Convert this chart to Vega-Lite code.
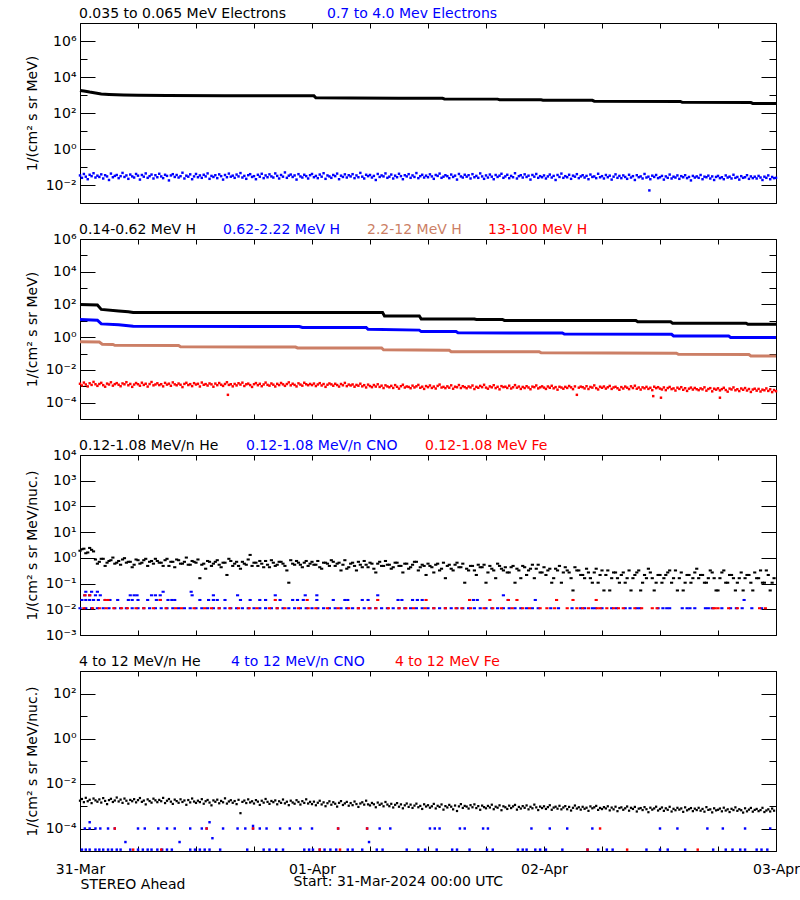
{
"$schema": "https://vega.github.io/schema/vega-lite/v6.json",
"background": "white",
"padding": {"left": 24, "top": 6, "right": 0, "bottom": 0},
"spacing": 11,
"title": {"text": "Start: 31-Mar-2024 00:00 UTC", "orient": "bottom", "anchor": "middle", "offset": -17, "dx": -14, "fontSize": 14, "fontWeight": "normal", "font": "DejaVu Sans", "color": "black"},
"resolve": {"scale": {"x": "independent", "y": "independent", "color": "independent"}},
"config": {
  "font": "DejaVu Sans",
  "view": {"stroke": "black", "strokeWidth": 1},
  "axis": {"domain": false, "grid": false, "tickColor": "black", "tickWidth": 1, "labelFont": "DejaVu Sans", "labelFontSize": 14, "labelColor": "black", "titleFont": "DejaVu Sans", "titleFontSize": 14, "titleFontWeight": "normal", "titleColor": "black", "labelFlush": false, "labelOverlap": false, "labelBound": false},
  "legend": {"orient": "top", "direction": "horizontal", "symbolSize": 0, "symbolOpacity": 0, "symbolStrokeWidth": 0, "labelOffset": -15, "labelFont": "DejaVu Sans", "labelFontSize": 14, "labelLimit": 600, "offset": 1, "padding": 0}
},
"datasets": {
"p1k": [{"t":0,"v":1800},{"t":0.4,"v":1650},{"t":1,"v":1450},{"t":1.6,"v":1300},{"t":2.2,"v":1150},{"t":3,"v":1080},{"t":4.5,"v":1000},{"t":6,"v":960},{"t":9,"v":940},{"t":15,"v":920},{"t":20,"v":910},{"t":24.2,"v":900},{"t":24.4,"v":700},{"t":28,"v":690},{"t":33,"v":660},{"t":37.5,"v":650},{"t":37.7,"v":600},{"t":43.2,"v":590},{"t":43.4,"v":550},{"t":47.7,"v":540},{"t":47.9,"v":515},{"t":53,"v":505},{"t":53.2,"v":455},{"t":62.1,"v":440},{"t":62.3,"v":390},{"t":69.4,"v":380},{"t":69.6,"v":340},{"t":72,"v":335}],
"p1b": [
{"t":0,"v":0.034},{"t":0.2,"v":0.025},{"t":0.4,"v":0.041},{"t":0.6,"v":0.029},{"t":0.8,"v":0.021},{"t":1,"v":0.037},{"t":1.2,"v":0.031},{"t":1.4,"v":0.045},{"t":1.6,"v":0.026},{"t":1.8,"v":0.033},
{"t":2,"v":0.028},{"t":2.2,"v":0.039},{"t":2.4,"v":0.023},{"t":2.6,"v":0.035},{"t":2.8,"v":0.030},{"t":3,"v":0.019},{"t":3.2,"v":0.043},{"t":3.4,"v":0.027},{"t":3.6,"v":0.032},{"t":3.8,"v":0.036},
{"t":4,"v":0.024},{"t":4.2,"v":0.031},{"t":4.4,"v":0.047},{"t":4.6,"v":0.028},{"t":4.8,"v":0.034},{"t":5,"v":0.022},{"t":5.2,"v":0.038},{"t":5.4,"v":0.030},{"t":5.6,"v":0.026},{"t":5.8,"v":0.041},
{"t":6,"v":0.033},{"t":6.2,"v":0.020},{"t":6.4,"v":0.036},{"t":6.6,"v":0.029},{"t":6.8,"v":0.044},{"t":7,"v":0.025},{"t":7.2,"v":0.031},{"t":7.4,"v":0.038},{"t":7.6,"v":0.023},{"t":7.8,"v":0.035},
{"t":8,"v":0.027},{"t":8.2,"v":0.042},{"t":8.4,"v":0.030},{"t":8.6,"v":0.024},{"t":8.8,"v":0.037},{"t":9,"v":0.032},{"t":9.2,"v":0.018},{"t":9.4,"v":0.034},{"t":9.6,"v":0.040},{"t":9.8,"v":0.028},
{"t":10,"v":0.036},{"t":10.2,"v":0.026},{"t":10.4,"v":0.031},{"t":10.6,"v":0.048},{"t":10.8,"v":0.023},{"t":11,"v":0.033},{"t":11.2,"v":0.029},{"t":11.4,"v":0.039},{"t":11.6,"v":0.021},{"t":11.8,"v":0.030},
{"t":12,"v":0.041},{"t":12.2,"v":0.027},{"t":12.4,"v":0.034},{"t":12.6,"v":0.025},{"t":12.8,"v":0.037},{"t":13,"v":0.030},{"t":13.2,"v":0.044},{"t":13.4,"v":0.022},{"t":13.6,"v":0.032},{"t":13.8,"v":0.028},
{"t":14,"v":0.035},{"t":14.2,"v":0.024},{"t":14.4,"v":0.039},{"t":14.6,"v":0.031},{"t":14.8,"v":0.020},{"t":15,"v":0.036},{"t":15.2,"v":0.027},{"t":15.4,"v":0.043},{"t":15.6,"v":0.029},{"t":15.8,"v":0.033},
{"t":16,"v":0.025},{"t":16.2,"v":0.038},{"t":16.4,"v":0.030},{"t":16.6,"v":0.046},{"t":16.8,"v":0.026},{"t":17,"v":0.032},{"t":17.2,"v":0.022},{"t":17.4,"v":0.035},{"t":17.6,"v":0.040},{"t":17.8,"v":0.028},
{"t":18,"v":0.031},{"t":18.2,"v":0.021},{"t":18.4,"v":0.037},{"t":18.6,"v":0.029},{"t":18.8,"v":0.042},{"t":19,"v":0.024},{"t":19.2,"v":0.034},{"t":19.4,"v":0.027},{"t":19.6,"v":0.039},{"t":19.8,"v":0.030},
{"t":20,"v":0.026},{"t":20.2,"v":0.044},{"t":20.4,"v":0.032},{"t":20.6,"v":0.023},{"t":20.8,"v":0.036},{"t":21,"v":0.029},{"t":21.2,"v":0.050},{"t":21.4,"v":0.025},{"t":21.6,"v":0.033},{"t":21.8,"v":0.038},
{"t":22,"v":0.028},{"t":22.2,"v":0.034},{"t":22.4,"v":0.020},{"t":22.6,"v":0.040},{"t":22.8,"v":0.030},{"t":23,"v":0.026},{"t":23.2,"v":0.037},{"t":23.4,"v":0.031},{"t":23.6,"v":0.023},{"t":23.8,"v":0.035},
{"t":24,"v":0.041},{"t":24.2,"v":0.027},{"t":24.4,"v":0.032},{"t":24.6,"v":0.024},{"t":24.8,"v":0.038},{"t":25,"v":0.029},{"t":25.2,"v":0.045},{"t":25.4,"v":0.022},{"t":25.6,"v":0.034},{"t":25.8,"v":0.030},
{"t":26,"v":0.025},{"t":26.2,"v":0.036},{"t":26.4,"v":0.031},{"t":26.6,"v":0.043},{"t":26.8,"v":0.021},{"t":27,"v":0.033},{"t":27.2,"v":0.028},{"t":27.4,"v":0.039},{"t":27.6,"v":0.026},{"t":27.8,"v":0.035},
{"t":28,"v":0.030},{"t":28.2,"v":0.040},{"t":28.4,"v":0.024},{"t":28.6,"v":0.034},{"t":28.8,"v":0.027},{"t":29,"v":0.047},{"t":29.2,"v":0.029},{"t":29.4,"v":0.023},{"t":29.6,"v":0.037},{"t":29.8,"v":0.031},
{"t":30,"v":0.036},{"t":30.2,"v":0.026},{"t":30.4,"v":0.032},{"t":30.6,"v":0.019},{"t":30.8,"v":0.041},{"t":31,"v":0.028},{"t":31.2,"v":0.034},{"t":31.4,"v":0.030},{"t":31.6,"v":0.044},{"t":31.8,"v":0.025},
{"t":32,"v":0.029},{"t":32.2,"v":0.038},{"t":32.4,"v":0.023},{"t":32.6,"v":0.033},{"t":32.8,"v":0.027},{"t":33,"v":0.042},{"t":33.2,"v":0.031},{"t":33.4,"v":0.021},{"t":33.6,"v":0.035},{"t":33.8,"v":0.030},
{"t":34,"v":0.040},{"t":34.2,"v":0.025},{"t":34.4,"v":0.034},{"t":34.6,"v":0.028},{"t":34.8,"v":0.046},{"t":35,"v":0.024},{"t":35.2,"v":0.031},{"t":35.4,"v":0.037},{"t":35.6,"v":0.026},{"t":35.8,"v":0.033},
{"t":36,"v":0.027},{"t":36.2,"v":0.039},{"t":36.4,"v":0.030},{"t":36.6,"v":0.022},{"t":36.8,"v":0.036},{"t":37,"v":0.032},{"t":37.2,"v":0.043},{"t":37.4,"v":0.025},{"t":37.6,"v":0.029},{"t":37.8,"v":0.035},
{"t":38,"v":0.031},{"t":38.2,"v":0.024},{"t":38.4,"v":0.038},{"t":38.6,"v":0.028},{"t":38.8,"v":0.033},{"t":39,"v":0.020},{"t":39.2,"v":0.041},{"t":39.4,"v":0.030},{"t":39.6,"v":0.026},{"t":39.8,"v":0.037},
{"t":40,"v":0.029},{"t":40.2,"v":0.035},{"t":40.4,"v":0.023},{"t":40.6,"v":0.040},{"t":40.8,"v":0.027},{"t":41,"v":0.032},{"t":41.2,"v":0.025},{"t":41.4,"v":0.044},{"t":41.6,"v":0.030},{"t":41.8,"v":0.022},
{"t":42,"v":0.034},{"t":42.2,"v":0.026},{"t":42.4,"v":0.038},{"t":42.6,"v":0.029},{"t":42.8,"v":0.021},{"t":43,"v":0.036},{"t":43.2,"v":0.028},{"t":43.4,"v":0.033},{"t":43.6,"v":0.042},{"t":43.8,"v":0.025},
{"t":44,"v":0.030},{"t":44.2,"v":0.037},{"t":44.4,"v":0.024},{"t":44.6,"v":0.032},{"t":44.8,"v":0.027},{"t":45,"v":0.045},{"t":45.2,"v":0.023},{"t":45.4,"v":0.031},{"t":45.6,"v":0.035},{"t":45.8,"v":0.026},
{"t":46,"v":0.039},{"t":46.2,"v":0.028},{"t":46.4,"v":0.033},{"t":46.6,"v":0.020},{"t":46.8,"v":0.036},{"t":47,"v":0.029},{"t":47.2,"v":0.041},{"t":47.4,"v":0.025},{"t":47.6,"v":0.031},{"t":47.8,"v":0.027},
{"t":48,"v":0.034},{"t":48.2,"v":0.023},{"t":48.4,"v":0.030},{"t":48.6,"v":0.038},{"t":48.8,"v":0.026},{"t":49,"v":0.032},{"t":49.2,"v":0.019},{"t":49.4,"v":0.036},{"t":49.6,"v":0.028},{"t":49.8,"v":0.043},
{"t":50,"v":0.025},{"t":50.2,"v":0.031},{"t":50.4,"v":0.027},{"t":50.6,"v":0.037},{"t":50.8,"v":0.022},{"t":51,"v":0.033},{"t":51.2,"v":0.029},{"t":51.4,"v":0.040},{"t":51.6,"v":0.024},{"t":51.8,"v":0.030},
{"t":52,"v":0.035},{"t":52.2,"v":0.026},{"t":52.4,"v":0.032},{"t":52.6,"v":0.021},{"t":52.8,"v":0.038},{"t":53,"v":0.028},{"t":53.2,"v":0.030},{"t":53.4,"v":0.024},{"t":53.6,"v":0.042},{"t":53.8,"v":0.027},
{"t":54,"v":0.031},{"t":54.2,"v":0.023},{"t":54.4,"v":0.036},{"t":54.6,"v":0.027},{"t":54.8,"v":0.033},{"t":55,"v":0.020},{"t":55.2,"v":0.029},{"t":55.4,"v":0.039},{"t":55.6,"v":0.025},{"t":55.8,"v":0.032},
{"t":56,"v":0.024},{"t":56.2,"v":0.034},{"t":56.4,"v":0.028},{"t":56.6,"v":0.022},{"t":56.8,"v":0.037},{"t":57,"v":0.026},{"t":57.2,"v":0.031},{"t":57.4,"v":0.019},{"t":57.6,"v":0.035},{"t":57.8,"v":0.027},
{"t":58,"v":0.030},{"t":58.2,"v":0.023},{"t":58.4,"v":0.041},{"t":58.6,"v":0.026},{"t":58.8,"v":0.029},{"t":59,"v":0.021},{"t":59.2,"v":0.033},{"t":59.4,"v":0.028},{"t":59.6,"v":0.036},{"t":59.8,"v":0.024},
{"t":60,"v":0.027},{"t":60.2,"v":0.032},{"t":60.4,"v":0.020},{"t":60.6,"v":0.030},{"t":60.8,"v":0.025},{"t":61,"v":0.038},{"t":61.2,"v":0.023},{"t":61.4,"v":0.029},{"t":61.6,"v":0.026},{"t":61.8,"v":0.034},
{"t":62,"v":0.022},{"t":62.2,"v":0.031},{"t":62.4,"v":0.027},{"t":62.6,"v":0.035},{"t":62.8,"v":0.024},{"t":63,"v":0.028},{"t":63.2,"v":0.018},{"t":63.4,"v":0.032},{"t":63.6,"v":0.026},{"t":63.8,"v":0.030},
{"t":64,"v":0.025},{"t":64.2,"v":0.036},{"t":64.4,"v":0.021},{"t":64.6,"v":0.029},{"t":64.8,"v":0.027},{"t":65,"v":0.033},{"t":65.2,"v":0.023},{"t":65.4,"v":0.030},{"t":65.6,"v":0.019},{"t":65.8,"v":0.028},
{"t":66,"v":0.032},{"t":66.2,"v":0.024},{"t":66.4,"v":0.027},{"t":66.6,"v":0.021},{"t":66.8,"v":0.034},{"t":67,"v":0.026},{"t":67.2,"v":0.029},{"t":67.4,"v":0.023},{"t":67.6,"v":0.037},{"t":67.8,"v":0.025},
{"t":68,"v":0.028},{"t":68.2,"v":0.020},{"t":68.4,"v":0.031},{"t":68.6,"v":0.025},{"t":68.8,"v":0.027},{"t":69,"v":0.035},{"t":69.2,"v":0.022},{"t":69.4,"v":0.030},{"t":69.6,"v":0.024},{"t":69.8,"v":0.029},
{"t":70,"v":0.023},{"t":70.2,"v":0.032},{"t":70.4,"v":0.026},{"t":70.6,"v":0.019},{"t":70.8,"v":0.029},{"t":71,"v":0.025},{"t":71.2,"v":0.034},{"t":71.4,"v":0.021},{"t":71.6,"v":0.028},{"t":71.8,"v":0.024},
{"t":58.9,"v":0.005},{"t":72,"v":0.025}],
"p2k": [{"t":0,"v":100},{"t":1.8,"v":92},{"t":2.2,"v":50},{"t":4,"v":40},{"t":5,"v":36},{"t":5.5,"v":32},{"t":31.3,"v":32},{"t":31.5,"v":20},{"t":35.1,"v":20},{"t":35.3,"v":13},{"t":40.8,"v":13},{"t":41,"v":12},{"t":43.7,"v":12},{"t":43.9,"v":10.5},{"t":57.5,"v":10.5},{"t":57.7,"v":8.7},{"t":61.1,"v":8.7},{"t":61.3,"v":7.2},{"t":68.9,"v":7.2},{"t":69.1,"v":6.1},{"t":72,"v":6.1}],
"p2b": [{"t":0,"v":12},{"t":1.8,"v":11},{"t":2.2,"v":6.5},{"t":4,"v":5.8},{"t":5.5,"v":4.6},{"t":22.7,"v":4.5},{"t":23,"v":3.9},{"t":29.6,"v":3.9},{"t":29.8,"v":3.0},{"t":35.1,"v":2.7},{"t":35.3,"v":2.2},{"t":38.9,"v":2.2},{"t":39.1,"v":1.85},{"t":49.9,"v":1.8},{"t":50.1,"v":1.55},{"t":61.2,"v":1.5},{"t":61.4,"v":1.2},{"t":67.1,"v":1.2},{"t":67.3,"v":0.96},{"t":72,"v":0.95}],
"p2o": [{"t":0,"v":0.52},{"t":2,"v":0.5},{"t":2.3,"v":0.37},{"t":3.4,"v":0.36},{"t":3.6,"v":0.32},{"t":10.2,"v":0.31},{"t":10.4,"v":0.26},{"t":22.3,"v":0.25},{"t":22.5,"v":0.22},{"t":31.2,"v":0.22},{"t":31.4,"v":0.17},{"t":38.2,"v":0.16},{"t":38.4,"v":0.13},{"t":47.5,"v":0.13},{"t":47.7,"v":0.11},{"t":61.7,"v":0.105},{"t":61.9,"v":0.091},{"t":69.2,"v":0.088},{"t":69.4,"v":0.072},{"t":72,"v":0.072}],
"p2r": [
{"t":0,"v":0.00142},{"t":0.2,"v":0.00112},{"t":0.4,"v":0.00168},{"t":0.6,"v":0.00128},{"t":0.8,"v":0.00098},{"t":1,"v":0.00152},{"t":1.2,"v":0.00121},{"t":1.4,"v":0.00185},{"t":1.6,"v":0.00133},{"t":1.8,"v":0.00106},
{"t":2,"v":0.00138},{"t":2.2,"v":0.00162},{"t":2.4,"v":0.00117},{"t":2.6,"v":0.00094},{"t":2.8,"v":0.00146},{"t":3,"v":0.00128},{"t":3.2,"v":0.00175},{"t":3.4,"v":0.00109},{"t":3.6,"v":0.00135},{"t":3.8,"v":0.00156},
{"t":4,"v":0.00124},{"t":4.2,"v":0.00101},{"t":4.4,"v":0.00149},{"t":4.6,"v":0.00132},{"t":4.8,"v":0.00178},{"t":5,"v":0.00115},{"t":5.2,"v":0.00139},{"t":5.4,"v":0.00092},{"t":5.6,"v":0.00127},{"t":5.8,"v":0.00158},
{"t":6,"v":0.00133},{"t":6.2,"v":0.00108},{"t":6.4,"v":0.00165},{"t":6.6,"v":0.00121},{"t":6.8,"v":0.00143},{"t":7,"v":0.00096},{"t":7.2,"v":0.00137},{"t":7.4,"v":0.00182},{"t":7.6,"v":0.00114},{"t":7.8,"v":0.00129},
{"t":8,"v":0.00152},{"t":8.2,"v":0.00118},{"t":8.4,"v":0.00134},{"t":8.6,"v":0.00099},{"t":8.8,"v":0.00161},{"t":9,"v":0.00126},{"t":9.2,"v":0.00144},{"t":9.4,"v":0.00107},{"t":9.6,"v":0.00172},{"t":9.8,"v":0.00131},
{"t":10,"v":0.00115},{"t":10.2,"v":0.00147},{"t":10.4,"v":0.00124},{"t":10.6,"v":0.00089},{"t":10.8,"v":0.00139},{"t":11,"v":0.00163},{"t":11.2,"v":0.00119},{"t":11.4,"v":0.00135},{"t":11.6,"v":0.00102},{"t":11.8,"v":0.00155},
{"t":12,"v":0.00128},{"t":12.2,"v":0.00142},{"t":12.4,"v":0.00097},{"t":12.6,"v":0.00169},{"t":12.8,"v":0.00123},{"t":13,"v":0.00136},{"t":13.2,"v":0.00111},{"t":13.4,"v":0.00149},{"t":13.6,"v":0.00131},{"t":13.8,"v":0.00094},
{"t":14,"v":0.00146},{"t":14.2,"v":0.00117},{"t":14.4,"v":0.00158},{"t":14.6,"v":0.00125},{"t":14.8,"v":0.00105},{"t":15,"v":0.00138},{"t":15.2,"v":0.00176},{"t":15.4,"v":0.00121},{"t":15.6,"v":0.00133},{"t":15.8,"v":0.00099},
{"t":16,"v":0.00139},{"t":16.2,"v":0.00113},{"t":16.4,"v":0.00153},{"t":16.6,"v":0.00127},{"t":16.8,"v":0.00166},{"t":17,"v":0.00104},{"t":17.2,"v":0.00132},{"t":17.4,"v":0.00145},{"t":17.6,"v":0.00118},{"t":17.8,"v":0.00091},
{"t":18,"v":0.00134},{"t":18.2,"v":0.00157},{"t":18.4,"v":0.00116},{"t":18.6,"v":0.00142},{"t":18.8,"v":0.00101},{"t":19,"v":0.00129},{"t":19.2,"v":0.00168},{"t":19.4,"v":0.00122},{"t":19.6,"v":0.00109},{"t":19.8,"v":0.00148},
{"t":20,"v":0.00125},{"t":20.2,"v":0.00097},{"t":20.4,"v":0.00141},{"t":20.6,"v":0.00118},{"t":20.8,"v":0.00159},{"t":21,"v":0.00131},{"t":21.2,"v":0.00106},{"t":21.4,"v":0.00137},{"t":21.6,"v":0.00173},{"t":21.8,"v":0.00114},
{"t":22,"v":0.00143},{"t":22.2,"v":0.00121},{"t":22.4,"v":0.00098},{"t":22.6,"v":0.00151},{"t":22.8,"v":0.00127},{"t":23,"v":0.00109},{"t":23.2,"v":0.00164},{"t":23.4,"v":0.00133},{"t":23.6,"v":0.00116},{"t":23.8,"v":0.00139},
{"t":24,"v":0.00118},{"t":24.2,"v":0.00146},{"t":24.4,"v":0.00103},{"t":24.6,"v":0.00129},{"t":24.8,"v":0.00155},{"t":25,"v":0.00112},{"t":25.2,"v":0.00137},{"t":25.4,"v":0.00092},{"t":25.6,"v":0.00124},{"t":25.8,"v":0.00149},
{"t":26,"v":0.00131},{"t":26.2,"v":0.00108},{"t":26.4,"v":0.00142},{"t":26.6,"v":0.00119},{"t":26.8,"v":0.00096},{"t":27,"v":0.00138},{"t":27.2,"v":0.00115},{"t":27.4,"v":0.00161},{"t":27.6,"v":0.00102},{"t":27.8,"v":0.00127},
{"t":28,"v":0.00112},{"t":28.2,"v":0.00129},{"t":28.4,"v":0.00094},{"t":28.6,"v":0.00121},{"t":28.8,"v":0.00108},{"t":29,"v":0.00143},{"t":29.2,"v":0.00099},{"t":29.4,"v":0.00117},{"t":29.6,"v":0.00085},{"t":29.8,"v":0.00126},
{"t":30,"v":0.00103},{"t":30.2,"v":0.00088},{"t":30.4,"v":0.00119},{"t":30.6,"v":0.00096},{"t":30.8,"v":0.00132},{"t":31,"v":0.00091},{"t":31.2,"v":0.00109},{"t":31.4,"v":0.00078},{"t":31.6,"v":0.00114},{"t":31.8,"v":0.00098},
{"t":32,"v":0.00087},{"t":32.2,"v":0.00106},{"t":32.4,"v":0.00079},{"t":32.6,"v":0.00118},{"t":32.8,"v":0.00093},{"t":33,"v":0.00072},{"t":33.2,"v":0.00101},{"t":33.4,"v":0.00124},{"t":33.6,"v":0.00084},{"t":33.8,"v":0.00097},
{"t":34,"v":0.00091},{"t":34.2,"v":0.00076},{"t":34.4,"v":0.00109},{"t":34.6,"v":0.00085},{"t":34.8,"v":0.00099},{"t":35,"v":0.00121},{"t":35.2,"v":0.00081},{"t":35.4,"v":0.00094},{"t":35.6,"v":0.00069},{"t":35.8,"v":0.00103},
{"t":36,"v":0.00088},{"t":36.2,"v":0.00112},{"t":36.4,"v":0.00079},{"t":36.6,"v":0.00096},{"t":36.8,"v":0.00073},{"t":37,"v":0.00105},{"t":37.2,"v":0.00127},{"t":37.4,"v":0.00084},{"t":37.6,"v":0.00092},{"t":37.8,"v":0.00077},
{"t":38,"v":0.00099},{"t":38.2,"v":0.00082},{"t":38.4,"v":0.00114},{"t":38.6,"v":0.00071},{"t":38.8,"v":0.00094},{"t":39,"v":0.00087},{"t":39.2,"v":0.00119},{"t":39.4,"v":0.00078},{"t":39.6,"v":0.00101},{"t":39.8,"v":0.00089},
{"t":40,"v":0.00076},{"t":40.2,"v":0.00097},{"t":40.4,"v":0.00085},{"t":40.6,"v":0.00111},{"t":40.8,"v":0.00068},{"t":41,"v":0.00092},{"t":41.2,"v":0.00081},{"t":41.4,"v":0.00105},{"t":41.6,"v":0.00088},{"t":41.8,"v":0.00123},
{"t":42,"v":0.00083},{"t":42.2,"v":0.00071},{"t":42.4,"v":0.00098},{"t":42.6,"v":0.00086},{"t":42.8,"v":0.00116},{"t":43,"v":0.00077},{"t":43.2,"v":0.00093},{"t":43.4,"v":0.00065},{"t":43.6,"v":0.00102},{"t":43.8,"v":0.00089},
{"t":44,"v":0.00094},{"t":44.2,"v":0.00079},{"t":44.4,"v":0.00108},{"t":44.6,"v":0.00073},{"t":44.8,"v":0.00087},{"t":45,"v":0.00118},{"t":45.2,"v":0.00082},{"t":45.4,"v":0.00096},{"t":45.6,"v":0.00069},{"t":45.8,"v":0.00091},
{"t":46,"v":0.00078},{"t":46.2,"v":0.00101},{"t":46.4,"v":0.00084},{"t":46.6,"v":0.00066},{"t":46.8,"v":0.00095},{"t":47,"v":0.00088},{"t":47.2,"v":0.00112},{"t":47.4,"v":0.00074},{"t":47.6,"v":0.00086},{"t":47.8,"v":0.00099},
{"t":48,"v":0.00083},{"t":48.2,"v":0.00069},{"t":48.4,"v":0.00097},{"t":48.6,"v":0.00081},{"t":48.8,"v":0.00107},{"t":49,"v":0.00075},{"t":49.2,"v":0.00089},{"t":49.4,"v":0.00062},{"t":49.6,"v":0.00093},{"t":49.8,"v":0.00084},
{"t":50,"v":0.00071},{"t":50.2,"v":0.00092},{"t":50.4,"v":0.00079},{"t":50.6,"v":0.00104},{"t":50.8,"v":0.00086},{"t":51,"v":0.00067},{"t":51.2,"v":0.00098},{"t":51.4,"v":0.0003},{"t":51.6,"v":0.00082},{"t":51.8,"v":0.00095},
{"t":52,"v":0.00088},{"t":52.2,"v":0.00074},{"t":52.4,"v":0.00101},{"t":52.6,"v":0.00068},{"t":52.8,"v":0.00091},{"t":53,"v":0.00083},{"t":53.2,"v":0.00113},{"t":53.4,"v":0.00077},{"t":53.6,"v":0.00064},{"t":53.8,"v":0.00094},
{"t":54,"v":0.00081},{"t":54.2,"v":0.00097},{"t":54.4,"v":0.00072},{"t":54.6,"v":0.00087},{"t":54.8,"v":0.00105},{"t":55,"v":0.00069},{"t":55.2,"v":0.00085},{"t":55.4,"v":0.00093},{"t":55.6,"v":0.00076},{"t":55.8,"v":0.00061},
{"t":56,"v":0.00089},{"t":56.2,"v":0.00073},{"t":56.4,"v":0.00096},{"t":56.6,"v":0.00082},{"t":56.8,"v":0.00067},{"t":57,"v":0.00099},{"t":57.2,"v":0.00078},{"t":57.4,"v":0.00108},{"t":57.6,"v":0.00071},{"t":57.8,"v":0.00084},
{"t":58,"v":0.00063},{"t":58.2,"v":0.00086},{"t":58.4,"v":0.00075},{"t":58.6,"v":0.00092},{"t":58.8,"v":0.00069},{"t":59,"v":0.00081},{"t":59.2,"v":0.00058},{"t":59.4,"v":0.00094},{"t":59.6,"v":0.00077},{"t":59.8,"v":0.00088},
{"t":60,"v":0.00072},{"t":60.2,"v":0.00064},{"t":60.4,"v":0.00085},{"t":60.6,"v":0.00058},{"t":60.8,"v":0.00078},{"t":61,"v":0.00091},{"t":61.2,"v":0.00067},{"t":61.4,"v":0.00074},{"t":61.6,"v":0.00055},{"t":61.8,"v":0.00082},
{"t":62,"v":0.00069},{"t":62.2,"v":0.00088},{"t":62.4,"v":0.00061},{"t":62.6,"v":0.00076},{"t":62.8,"v":0.00052},{"t":63,"v":0.00071},{"t":63.2,"v":0.00083},{"t":63.4,"v":0.00063},{"t":63.6,"v":0.00079},{"t":63.8,"v":0.00066},
{"t":64,"v":0.00058},{"t":64.2,"v":0.00074},{"t":64.4,"v":0.00065},{"t":64.6,"v":0.00086},{"t":64.8,"v":0.00054},{"t":65,"v":0.00068},{"t":65.2,"v":0.00077},{"t":65.4,"v":0.00049},{"t":65.6,"v":0.00071},{"t":65.8,"v":0.00062},
{"t":66,"v":0.00075},{"t":66.2,"v":0.00056},{"t":66.4,"v":0.00067},{"t":66.6,"v":0.00081},{"t":66.8,"v":0.00059},{"t":67,"v":0.00047},{"t":67.2,"v":0.00072},{"t":67.4,"v":0.00064},{"t":67.6,"v":0.00085},{"t":67.8,"v":0.00057},
{"t":68,"v":0.00066},{"t":68.2,"v":0.00051},{"t":68.4,"v":0.00073},{"t":68.6,"v":0.00061},{"t":68.8,"v":0.00078},{"t":69,"v":0.00055},{"t":69.2,"v":0.00068},{"t":69.4,"v":0.00045},{"t":69.6,"v":0.00063},{"t":69.8,"v":0.00071},
{"t":70,"v":0.00054},{"t":70.2,"v":0.00069},{"t":70.4,"v":0.00048},{"t":70.6,"v":0.00062},{"t":70.8,"v":0.00057},{"t":71,"v":0.00074},{"t":71.2,"v":0.00052},{"t":71.4,"v":0.00065},{"t":71.6,"v":0.00044},{"t":71.8,"v":0.00059},
{"t":15.3,"v":0.0003},{"t":59.3,"v":0.00025},{"t":60.1,"v":0.0002},{"t":66.2,"v":0.0002},{"t":72,"v":0.0005}],
"p3k": [
{"t":0,"v":1.89},{"t":0.4,"v":2.27},{"t":0.8,"v":1.62},{"t":1.2,"v":2.05},{"t":1.6,"v":0.864},{"t":2,"v":0.702},{"t":2.4,"v":0.918},{"t":2.8,"v":0.648},{"t":3.2,"v":0.81},{"t":3.6,"v":0.594},
{"t":4,"v":0.756},{"t":4.4,"v":0.864},{"t":4.8,"v":0.648},{"t":5.2,"v":0.702},{"t":5.6,"v":0.54},{"t":6,"v":0.81},{"t":6.4,"v":0.648},{"t":6.8,"v":0.918},{"t":7.2,"v":0.702},{"t":7.6,"v":0.594},
{"t":8,"v":0.756},{"t":8.4,"v":0.648},{"t":8.8,"v":0.81},{"t":9.2,"v":0.486},{"t":9.6,"v":0.702},{"t":10,"v":0.864},{"t":10.4,"v":0.594},{"t":10.8,"v":0.702},{"t":11.2,"v":0.54},{"t":11.6,"v":0.756},
{"t":12,"v":0.648},{"t":12.4,"v":0.162},{"t":12.8,"v":0.594},{"t":13.2,"v":0.756},{"t":13.6,"v":0.486},{"t":14,"v":0.702},{"t":14.4,"v":0.54},{"t":14.8,"v":0.648},{"t":15.2,"v":0.216},{"t":15.6,"v":0.756},
{"t":16,"v":0.594},{"t":16.4,"v":0.486},{"t":16.8,"v":0.702},{"t":17.2,"v":0.54},{"t":17.6,"v":1.3},{"t":18,"v":0.648},{"t":18.4,"v":0.486},{"t":18.8,"v":0.594},{"t":19.2,"v":0.756},{"t":19.6,"v":0.432},
{"t":20,"v":0.648},{"t":20.4,"v":0.54},{"t":20.8,"v":0.702},{"t":21.2,"v":0.486},{"t":21.6,"v":0.108},{"t":22,"v":0.594},{"t":22.4,"v":0.756},{"t":22.8,"v":0.54},{"t":23.2,"v":0.648},{"t":23.6,"v":0.486},
{"t":24,"v":0.702},{"t":24.4,"v":0.54},{"t":24.8,"v":0.432},{"t":25.2,"v":0.648},{"t":25.6,"v":0.594},{"t":26,"v":0.81},{"t":26.4,"v":0.486},{"t":26.8,"v":0.648},{"t":27.2,"v":0.54},{"t":27.6,"v":0.378},
{"t":28,"v":0.594},{"t":28.4,"v":0.486},{"t":28.8,"v":0.702},{"t":29.2,"v":0.432},{"t":29.6,"v":0.54},{"t":30,"v":0.648},{"t":30.4,"v":0.378},{"t":30.8,"v":0.594},{"t":31.2,"v":0.486},{"t":31.6,"v":0.756},
{"t":32,"v":0.54},{"t":32.4,"v":0.432},{"t":32.8,"v":0.648},{"t":33.2,"v":0.486},{"t":33.6,"v":0.594},{"t":34,"v":0.378},{"t":34.4,"v":0.54},{"t":34.8,"v":0.702},{"t":35.2,"v":0.432},{"t":35.6,"v":0.486},
{"t":36,"v":0.594},{"t":36.4,"v":0.432},{"t":36.8,"v":0.54},{"t":37.2,"v":0.324},{"t":37.6,"v":0.648},{"t":38,"v":0.486},{"t":38.4,"v":0.378},{"t":38.8,"v":0.54},{"t":39.2,"v":0.432},{"t":39.6,"v":0.594},
{"t":40,"v":0.378},{"t":40.4,"v":0.486},{"t":40.8,"v":0.324},{"t":41.2,"v":0.54},{"t":41.6,"v":0.432},{"t":42,"v":0.108},{"t":42.4,"v":0.486},{"t":42.8,"v":0.324},{"t":43.2,"v":0.594},{"t":43.6,"v":0.378},
{"t":44,"v":0.432},{"t":44.4,"v":0.27},{"t":44.8,"v":0.486},{"t":45.2,"v":0.378},{"t":45.6,"v":0.162},{"t":46,"v":0.432},{"t":46.4,"v":0.324},{"t":46.8,"v":0.54},{"t":47.2,"v":0.378},{"t":47.6,"v":0.27},
{"t":48,"v":0.432},{"t":48.4,"v":0.324},{"t":48.8,"v":0.108},{"t":49.2,"v":0.378},{"t":49.6,"v":0.486},{"t":50,"v":0.27},{"t":50.4,"v":0.324},{"t":50.8,"v":0.162},{"t":51.2,"v":0.432},{"t":51.6,"v":0.324},
{"t":52,"v":0.216},{"t":52.4,"v":0.378},{"t":52.8,"v":0.162},{"t":53.2,"v":0.27},{"t":53.6,"v":0.108},{"t":54,"v":0.324},{"t":54.4,"v":0.216},{"t":54.8,"v":0.054},{"t":55.2,"v":0.27},{"t":55.6,"v":0.162},
{"t":56,"v":0.216},{"t":56.4,"v":0.108},{"t":56.8,"v":0.324},{"t":57.2,"v":0.162},{"t":57.6,"v":0.27},{"t":58,"v":0.054},{"t":58.4,"v":0.216},{"t":58.8,"v":0.378},{"t":59.2,"v":0.162},{"t":59.6,"v":0.108},
{"t":60,"v":0.216},{"t":60.4,"v":0.162},{"t":60.8,"v":0.27},{"t":61.2,"v":0.108},{"t":61.6,"v":0.324},{"t":62,"v":0.162},{"t":62.4,"v":0.054},{"t":62.8,"v":0.216},{"t":63.2,"v":0.108},{"t":63.6,"v":0.27},
{"t":64,"v":0.162},{"t":64.4,"v":0.216},{"t":64.8,"v":0.108},{"t":65.2,"v":0.324},{"t":65.6,"v":0.162},{"t":66,"v":0.054},{"t":66.4,"v":0.27},{"t":66.8,"v":0.108},{"t":67.2,"v":0.216},{"t":67.6,"v":0.162},
{"t":68,"v":0.108},{"t":68.4,"v":0.27},{"t":68.8,"v":0.162},{"t":69.2,"v":0.216},{"t":69.6,"v":0.054},{"t":70,"v":0.162},{"t":70.4,"v":0.324},{"t":70.8,"v":0.108},{"t":71.2,"v":0.216},{"t":71.6,"v":0.108},
{"t":0.2,"v":2.16},{"t":0.6,"v":1.512},{"t":1,"v":2.43},{"t":1.4,"v":1.782},{"t":1.8,"v":0.594},{"t":2.2,"v":0.918},{"t":2.6,"v":0.486},{"t":3,"v":0.756},{"t":3.4,"v":1.026},{"t":3.8,"v":0.648},
{"t":4.2,"v":0.54},{"t":4.6,"v":0.972},{"t":5,"v":0.702},{"t":5.4,"v":0.432},{"t":5.8,"v":0.864},{"t":6.2,"v":0.594},{"t":6.6,"v":0.81},{"t":7,"v":0.486},{"t":7.4,"v":0.756},{"t":7.8,"v":0.918},
{"t":8.2,"v":0.648},{"t":8.6,"v":0.486},{"t":9,"v":0.918},{"t":9.4,"v":0.702},{"t":9.8,"v":0.432},{"t":10.2,"v":0.81},{"t":10.6,"v":0.594},{"t":11,"v":1.026},{"t":11.4,"v":0.54},{"t":11.8,"v":0.702},
{"t":12.2,"v":0.864},{"t":12.6,"v":0.54},{"t":13,"v":0.378},{"t":13.4,"v":0.702},{"t":13.8,"v":0.594},{"t":14.2,"v":0.81},{"t":14.6,"v":0.432},{"t":15,"v":0.648},{"t":15.4,"v":0.918},{"t":15.8,"v":0.486},
{"t":16.2,"v":0.702},{"t":16.6,"v":0.378},{"t":17,"v":0.594},{"t":17.4,"v":0.864},{"t":17.8,"v":0.486},{"t":18.2,"v":0.648},{"t":18.6,"v":0.756},{"t":19,"v":0.432},{"t":19.4,"v":0.54},{"t":19.8,"v":0.81},
{"t":20.2,"v":0.486},{"t":20.6,"v":0.702},{"t":21,"v":0.594},{"t":21.4,"v":0.324},{"t":21.8,"v":0.81},{"t":22.2,"v":0.54},{"t":22.6,"v":0.648},{"t":23,"v":0.432},{"t":23.4,"v":0.756},{"t":23.8,"v":0.594},
{"t":24.2,"v":0.54},{"t":24.6,"v":0.756},{"t":25,"v":0.378},{"t":25.4,"v":0.648},{"t":25.8,"v":0.486},{"t":26.2,"v":0.702},{"t":26.6,"v":0.594},{"t":27,"v":0.324},{"t":27.4,"v":0.81},{"t":27.8,"v":0.432},
{"t":28.2,"v":0.648},{"t":28.6,"v":0.324},{"t":29,"v":0.54},{"t":29.4,"v":0.756},{"t":29.8,"v":0.432},{"t":30.2,"v":0.594},{"t":30.6,"v":0.27},{"t":31,"v":0.702},{"t":31.4,"v":0.486},{"t":31.8,"v":0.54},
{"t":32.2,"v":0.378},{"t":32.6,"v":0.648},{"t":33,"v":0.486},{"t":33.4,"v":0.27},{"t":33.8,"v":0.594},{"t":34.2,"v":0.432},{"t":34.6,"v":0.702},{"t":35,"v":0.324},{"t":35.4,"v":0.54},{"t":35.8,"v":0.216},
{"t":36.2,"v":0.486},{"t":36.6,"v":0.27},{"t":37,"v":0.594},{"t":37.4,"v":0.378},{"t":37.8,"v":0.162},{"t":38.2,"v":0.54},{"t":38.6,"v":0.324},{"t":39,"v":0.648},{"t":39.4,"v":0.432},{"t":39.8,"v":0.108},
{"t":40.2,"v":0.324},{"t":40.6,"v":0.486},{"t":41,"v":0.216},{"t":41.4,"v":0.432},{"t":41.8,"v":0.54},{"t":42.2,"v":0.27},{"t":42.6,"v":0.378},{"t":43,"v":0.162},{"t":43.4,"v":0.486},{"t":43.8,"v":0.324},
{"t":44.2,"v":0.27},{"t":44.6,"v":0.432},{"t":45,"v":0.108},{"t":45.4,"v":0.324},{"t":45.8,"v":0.486},{"t":46.2,"v":0.216},{"t":46.6,"v":0.378},{"t":47,"v":0.162},{"t":47.4,"v":0.54},{"t":47.8,"v":0.27},
{"t":48.2,"v":0.216},{"t":48.6,"v":0.378},{"t":49,"v":0.162},{"t":49.4,"v":0.324},{"t":49.8,"v":0.108},{"t":50.2,"v":0.432},{"t":50.6,"v":0.27},{"t":51,"v":0.054},{"t":51.4,"v":0.324},{"t":51.8,"v":0.216},
{"t":52.2,"v":0.162},{"t":52.6,"v":0.27},{"t":53,"v":0.108},{"t":53.4,"v":0.378},{"t":53.8,"v":0.216},{"t":54.2,"v":0.054},{"t":54.6,"v":0.324},{"t":55,"v":0.162},{"t":55.4,"v":0.27},{"t":55.8,"v":0.108},
{"t":56.2,"v":0.27},{"t":56.6,"v":0.162},{"t":57,"v":0.054},{"t":57.4,"v":0.216},{"t":57.8,"v":0.324},{"t":58.2,"v":0.108},{"t":58.6,"v":0.162},{"t":59,"v":0.27},{"t":59.4,"v":0.054},{"t":59.8,"v":0.216},
{"t":60.2,"v":0.108},{"t":60.6,"v":0.216},{"t":61,"v":0.324},{"t":61.4,"v":0.162},{"t":61.8,"v":0.054},{"t":62.2,"v":0.27},{"t":62.6,"v":0.108},{"t":63,"v":0.216},{"t":63.4,"v":0.162},{"t":63.8,"v":0.378},
{"t":64.2,"v":0.216},{"t":64.6,"v":0.108},{"t":65,"v":0.162},{"t":65.4,"v":0.27},{"t":65.8,"v":0.054},{"t":66.2,"v":0.162},{"t":66.6,"v":0.324},{"t":67,"v":0.108},{"t":67.4,"v":0.216},{"t":67.8,"v":0.054},
{"t":68.2,"v":0.162},{"t":68.6,"v":0.054},{"t":69,"v":0.216},{"t":69.4,"v":0.108},{"t":69.8,"v":0.27},{"t":70.2,"v":0.162},{"t":70.6,"v":0.108},{"t":71,"v":0.324},{"t":71.4,"v":0.054},{"t":71.8,"v":0.162}],
"p3b": [
{"t":0,"v":0.011},{"t":0.6,"v":0.011},{"t":1.2,"v":0.011},{"t":1.8,"v":0.011},{"t":2.4,"v":0.011},{"t":3,"v":0.011},{"t":3.6,"v":0.011},{"t":4.2,"v":0.011},{"t":4.8,"v":0.011},{"t":5.4,"v":0.011},
{"t":6,"v":0.011},{"t":6.6,"v":0.011},{"t":7.2,"v":0.011},{"t":7.8,"v":0.011},{"t":8.4,"v":0.011},{"t":9,"v":0.011},{"t":9.6,"v":0.011},{"t":10.2,"v":0.011},{"t":10.8,"v":0.011},{"t":11.4,"v":0.011},
{"t":12,"v":0.011},{"t":12.6,"v":0.011},{"t":13.2,"v":0.011},{"t":13.8,"v":0.011},{"t":14.4,"v":0.011},{"t":15,"v":0.011},{"t":15.6,"v":0.011},{"t":16.2,"v":0.011},{"t":16.8,"v":0.011},{"t":17.4,"v":0.011},
{"t":18,"v":0.011},{"t":18.6,"v":0.011},{"t":19.2,"v":0.011},{"t":19.8,"v":0.011},{"t":20.4,"v":0.011},{"t":21,"v":0.011},{"t":21.6,"v":0.011},{"t":22.2,"v":0.011},{"t":22.8,"v":0.011},{"t":23.4,"v":0.011},
{"t":24,"v":0.011},{"t":24.6,"v":0.011},{"t":25.2,"v":0.011},{"t":25.8,"v":0.011},{"t":26.4,"v":0.011},{"t":27,"v":0.011},{"t":27.6,"v":0.011},{"t":28.2,"v":0.011},{"t":28.8,"v":0.011},{"t":29.4,"v":0.011},
{"t":30,"v":0.011},{"t":30.6,"v":0.011},{"t":31.2,"v":0.011},{"t":31.8,"v":0.011},{"t":32.4,"v":0.011},{"t":33,"v":0.011},{"t":33.6,"v":0.011},{"t":34.2,"v":0.011},{"t":34.8,"v":0.011},{"t":35.4,"v":0.011},
{"t":36,"v":0.011},{"t":36.6,"v":0.011},{"t":37.2,"v":0.011},{"t":37.8,"v":0.011},{"t":38.4,"v":0.011},{"t":39,"v":0.011},{"t":39.6,"v":0.011},{"t":40.2,"v":0.011},{"t":40.8,"v":0.011},{"t":41.4,"v":0.011},
{"t":42,"v":0.011},{"t":42.6,"v":0.011},{"t":43.2,"v":0.011},{"t":43.8,"v":0.011},{"t":44.4,"v":0.011},{"t":45,"v":0.011},{"t":45.6,"v":0.011},{"t":46.2,"v":0.011},{"t":46.8,"v":0.011},{"t":47.4,"v":0.011},
{"t":48.7,"v":0.011},{"t":49.5,"v":0.011},{"t":50.9,"v":0.011},{"t":51.8,"v":0.011},{"t":52.2,"v":0.011},{"t":53,"v":0.011},{"t":53.3,"v":0.011},{"t":54,"v":0.011},{"t":55,"v":0.011},{"t":55.5,"v":0.011},
{"t":56.4,"v":0.011},{"t":56.9,"v":0.011},{"t":57.6,"v":0.011},{"t":57.9,"v":0.011},{"t":59.8,"v":0.011},{"t":60.3,"v":0.011},{"t":60.7,"v":0.011},{"t":61,"v":0.011},{"t":62.3,"v":0.011},{"t":62.8,"v":0.011},
{"t":63.1,"v":0.011},{"t":63.6,"v":0.011},{"t":64.7,"v":0.011},{"t":65,"v":0.011},{"t":65.4,"v":0.011},{"t":66.4,"v":0.011},{"t":67.3,"v":0.011},{"t":67.9,"v":0.011},{"t":68.5,"v":0.011},{"t":69.5,"v":0.011},{"t":70.5,"v":0.011},
{"t":0.2,"v":0.023},{"t":0.6,"v":0.023},{"t":1,"v":0.023},{"t":1.4,"v":0.023},{"t":1.9,"v":0.023},{"t":2.6,"v":0.023},{"t":3.1,"v":0.023},{"t":3.9,"v":0.023},{"t":5,"v":0.023},{"t":5.4,"v":0.023},
{"t":6,"v":0.023},{"t":7,"v":0.023},{"t":7.9,"v":0.023},{"t":8.3,"v":0.023},{"t":9.1,"v":0.023},{"t":9.5,"v":0.023},{"t":9.8,"v":0.023},{"t":12.4,"v":0.023},{"t":13.3,"v":0.023},{"t":13.8,"v":0.023},
{"t":14.2,"v":0.023},{"t":15,"v":0.023},{"t":16.6,"v":0.023},{"t":17.6,"v":0.023},{"t":18.6,"v":0.023},{"t":19.2,"v":0.023},{"t":20.7,"v":0.023},{"t":22,"v":0.023},{"t":22.5,"v":0.023},{"t":23.1,"v":0.023},
{"t":24.5,"v":0.023},{"t":26.2,"v":0.023},{"t":27.4,"v":0.023},{"t":27.7,"v":0.023},{"t":29.2,"v":0.023},{"t":29.8,"v":0.023},{"t":32.9,"v":0.023},{"t":33.3,"v":0.023},{"t":34.4,"v":0.023},{"t":34.9,"v":0.023},
{"t":35.4,"v":0.023},{"t":40.7,"v":0.023},{"t":41.1,"v":0.023},{"t":44.3,"v":0.023},{"t":47.1,"v":0.023},{"t":68.7,"v":0.023},
{"t":0.5,"v":0.035},{"t":1,"v":0.035},{"t":1.6,"v":0.035},{"t":2.1,"v":0.035},{"t":5.2,"v":0.035},{"t":5.6,"v":0.035},{"t":5.9,"v":0.035},{"t":7.4,"v":0.035},{"t":7.8,"v":0.035},{"t":8.3,"v":0.035},
{"t":11.6,"v":0.035},{"t":13.8,"v":0.035},{"t":16.3,"v":0.035},{"t":20.2,"v":0.035},{"t":23.3,"v":0.035},{"t":24.5,"v":0.035},{"t":30.8,"v":0.035},{"t":43.8,"v":0.035},
{"t":0.6,"v":0.048},{"t":1.2,"v":0.048},{"t":1.8,"v":0.048},{"t":8.6,"v":0.048},{"t":11.5,"v":0.048}],
"p3r": [
{"t":0.4,"v":0.011},{"t":1.3,"v":0.011},{"t":2,"v":0.011},{"t":2.7,"v":0.011},{"t":3.5,"v":0.011},{"t":4.3,"v":0.011},{"t":4.9,"v":0.011},{"t":5.8,"v":0.011},{"t":6.6,"v":0.011},{"t":7.6,"v":0.011},
{"t":8.9,"v":0.011},{"t":9.9,"v":0.011},{"t":10.5,"v":0.011},{"t":11.8,"v":0.011},{"t":12.9,"v":0.011},{"t":13.6,"v":0.011},{"t":14.4,"v":0.011},{"t":15.5,"v":0.011},{"t":16.4,"v":0.011},{"t":17.5,"v":0.011},
{"t":18.3,"v":0.011},{"t":19.6,"v":0.011},{"t":20.4,"v":0.011},{"t":21.2,"v":0.011},{"t":22.6,"v":0.011},{"t":23.6,"v":0.011},{"t":24.4,"v":0.011},{"t":25.6,"v":0.011},{"t":26.7,"v":0.011},{"t":27.8,"v":0.011},
{"t":28.8,"v":0.011},{"t":29.9,"v":0.011},{"t":30.6,"v":0.011},{"t":31.9,"v":0.011},{"t":33,"v":0.011},{"t":33.7,"v":0.011},{"t":34.5,"v":0.011},{"t":35.7,"v":0.011},{"t":36.6,"v":0.011},{"t":37.8,"v":0.011},
{"t":38.9,"v":0.011},{"t":39.5,"v":0.011},{"t":40.4,"v":0.011},{"t":41.8,"v":0.011},{"t":42.7,"v":0.011},{"t":43.6,"v":0.011},{"t":44.7,"v":0.011},{"t":45.8,"v":0.011},{"t":46.5,"v":0.011},{"t":47.6,"v":0.011},
{"t":48.3,"v":0.011},{"t":49.1,"v":0.011},{"t":50.4,"v":0.011},{"t":51.4,"v":0.011},{"t":52,"v":0.011},{"t":52.6,"v":0.011},{"t":53.5,"v":0.011},{"t":53.8,"v":0.011},{"t":54.5,"v":0.011},{"t":55.2,"v":0.011},
{"t":55.7,"v":0.011},{"t":56.2,"v":0.011},{"t":57.4,"v":0.011},{"t":58.1,"v":0.011},{"t":59.2,"v":0.011},{"t":59.7,"v":0.011},{"t":65.5,"v":0.011},{"t":65.7,"v":0.011},{"t":66,"v":0.011},{"t":67.1,"v":0.011},
{"t":68,"v":0.011},{"t":70.3,"v":0.011},{"t":70.9,"v":0.011},
{"t":2.6,"v":0.023},{"t":2.9,"v":0.023},{"t":8.3,"v":0.023},{"t":20.2,"v":0.023},{"t":23.5,"v":0.023},{"t":30.8,"v":0.023},{"t":35.8,"v":0.023},{"t":40.3,"v":0.023},{"t":42.4,"v":0.023},{"t":44.3,"v":0.023},
{"t":45.2,"v":0.023},{"t":49.3,"v":0.023},{"t":51,"v":0.023},{"t":53.4,"v":0.023},
{"t":0.5,"v":0.035},{"t":1,"v":0.035}],
"p4k": [
{"t":0,"v":0.00172},{"t":0.2,"v":0.00205},{"t":0.4,"v":0.00148},{"t":0.6,"v":0.00231},{"t":0.8,"v":0.00163},{"t":1,"v":0.00189},{"t":1.2,"v":0.00134},{"t":1.4,"v":0.00215},{"t":1.6,"v":0.00178},{"t":1.8,"v":0.00155},
{"t":2,"v":0.00196},{"t":2.2,"v":0.00142},{"t":2.4,"v":0.00224},{"t":2.6,"v":0.00168},{"t":2.8,"v":0.00121},{"t":3,"v":0.00183},{"t":3.2,"v":0.00209},{"t":3.4,"v":0.00151},{"t":3.6,"v":0.00176},{"t":3.8,"v":0.00238},
{"t":4,"v":0.00159},{"t":4.2,"v":0.00192},{"t":4.4,"v":0.00138},{"t":4.6,"v":0.00214},{"t":4.8,"v":0.00171},{"t":5,"v":0.00127},{"t":5.2,"v":0.00186},{"t":5.4,"v":0.00163},{"t":5.6,"v":0.00201},{"t":5.8,"v":0.00145},
{"t":6,"v":0.00182},{"t":6.2,"v":0.00226},{"t":6.4,"v":0.00153},{"t":6.6,"v":0.00174},{"t":6.8,"v":0.00118},{"t":7,"v":0.00197},{"t":7.2,"v":0.00166},{"t":7.4,"v":0.00141},{"t":7.6,"v":0.00212},{"t":7.8,"v":0.00179},
{"t":8,"v":0.00148},{"t":8.2,"v":0.00187},{"t":8.4,"v":0.00163},{"t":8.6,"v":0.00229},{"t":8.8,"v":0.00135},{"t":9,"v":0.00171},{"t":9.2,"v":0.00204},{"t":9.4,"v":0.00156},{"t":9.6,"v":0.00124},{"t":9.8,"v":0.00192},
{"t":10,"v":0.00165},{"t":10.2,"v":0.00139},{"t":10.4,"v":0.00198},{"t":10.6,"v":0.00151},{"t":10.8,"v":0.00176},{"t":11,"v":0.00113},{"t":11.2,"v":0.00184},{"t":11.4,"v":0.00145},{"t":11.6,"v":0.00215},{"t":11.8,"v":0.00158},
{"t":12,"v":0.00137},{"t":12.2,"v":0.00172},{"t":12.4,"v":0.00149},{"t":12.6,"v":0.00201},{"t":12.8,"v":0.00126},{"t":13,"v":0.00163},{"t":13.2,"v":0.00185},{"t":13.4,"v":0.00142},{"t":13.6,"v":0.00107},{"t":13.8,"v":0.00177},
{"t":14,"v":0.00154},{"t":14.2,"v":0.00191},{"t":14.4,"v":0.00132},{"t":14.6,"v":0.00168},{"t":14.8,"v":0.00146},{"t":15,"v":0.00219},{"t":15.2,"v":0.00128},{"t":15.4,"v":0.00159},{"t":15.6,"v":0.00181},{"t":15.8,"v":0.00139},
{"t":16,"v":0.00166},{"t":16.2,"v":0.00121},{"t":16.4,"v":0.00188},{"t":16.6,"v":0.00048},{"t":16.8,"v":0.00152},{"t":17,"v":0.00174},{"t":17.2,"v":0.00135},{"t":17.4,"v":0.00197},{"t":17.6,"v":0.00144},{"t":17.8,"v":0.00162},
{"t":18,"v":0.00129},{"t":18.2,"v":0.00183},{"t":18.4,"v":0.00156},{"t":18.6,"v":0.00112},{"t":18.8,"v":0.00171},{"t":19,"v":0.00141},{"t":19.2,"v":0.00205},{"t":19.4,"v":0.00153},{"t":19.6,"v":0.00124},{"t":19.8,"v":0.00167},
{"t":20,"v":0.00148},{"t":20.2,"v":0.00177},{"t":20.4,"v":0.00119},{"t":20.6,"v":0.00162},{"t":20.8,"v":0.00138},{"t":21,"v":0.00194},{"t":21.2,"v":0.00131},{"t":21.4,"v":0.00155},{"t":21.6,"v":0.00109},{"t":21.8,"v":0.00172},
{"t":22,"v":0.00143},{"t":22.2,"v":0.00126},{"t":22.4,"v":0.00181},{"t":22.6,"v":0.00151},{"t":22.8,"v":0.00116},{"t":23,"v":0.00164},{"t":23.2,"v":0.00137},{"t":23.4,"v":0.00198},{"t":23.6,"v":0.00129},{"t":23.8,"v":0.00153},
{"t":24,"v":0.00121},{"t":24.2,"v":0.00156},{"t":24.4,"v":0.00108},{"t":24.6,"v":0.00139},{"t":24.8,"v":0.00171},{"t":25,"v":0.00117},{"t":25.2,"v":0.00145},{"t":25.4,"v":0.00098},{"t":25.6,"v":0.00133},{"t":25.8,"v":0.00162},
{"t":26,"v":0.00114},{"t":26.2,"v":0.00147},{"t":26.4,"v":0.00126},{"t":26.6,"v":0.00094},{"t":26.8,"v":0.00138},{"t":27,"v":0.00165},{"t":27.2,"v":0.00111},{"t":27.4,"v":0.00131},{"t":27.6,"v":0.00152},{"t":27.8,"v":0.00103},
{"t":28,"v":0.00135},{"t":28.2,"v":0.00109},{"t":28.4,"v":0.00158},{"t":28.6,"v":0.00122},{"t":28.8,"v":0.00091},{"t":29,"v":0.00129},{"t":29.2,"v":0.00146},{"t":29.4,"v":0.00115},{"t":29.6,"v":0.00172},{"t":29.8,"v":0.00118},
{"t":30,"v":0.00106},{"t":30.2,"v":0.00137},{"t":30.4,"v":0.00119},{"t":30.6,"v":0.00088},{"t":30.8,"v":0.00142},{"t":31,"v":0.00112},{"t":31.2,"v":0.00127},{"t":31.4,"v":0.00097},{"t":31.6,"v":0.00151},{"t":31.8,"v":0.00116},
{"t":32,"v":0.00098},{"t":32.2,"v":0.00125},{"t":32.4,"v":0.00086},{"t":32.6,"v":0.00113},{"t":32.8,"v":0.00134},{"t":33,"v":0.00093},{"t":33.2,"v":0.00118},{"t":33.4,"v":0.00079},{"t":33.6,"v":0.00107},{"t":33.8,"v":0.00129},
{"t":34,"v":0.00091},{"t":34.2,"v":0.00115},{"t":34.4,"v":0.00082},{"t":34.6,"v":0.00104},{"t":34.8,"v":0.00127},{"t":35,"v":0.00088},{"t":35.2,"v":0.00101},{"t":35.4,"v":0.00074},{"t":35.6,"v":0.00119},{"t":35.8,"v":0.00095},
{"t":36,"v":0.00108},{"t":36.2,"v":0.00084},{"t":36.4,"v":0.00097},{"t":36.6,"v":0.00124},{"t":36.8,"v":0.00078},{"t":37,"v":0.00102},{"t":37.2,"v":0.00091},{"t":37.4,"v":0.00117},{"t":37.6,"v":0.00069},{"t":37.8,"v":0.00099},
{"t":38,"v":0.00086},{"t":38.2,"v":0.00112},{"t":38.4,"v":0.00093},{"t":38.6,"v":0.00071},{"t":38.8,"v":0.00105},{"t":39,"v":0.0006},{"t":39.2,"v":0.00096},{"t":39.4,"v":0.00121},{"t":39.6,"v":0.00082},{"t":39.8,"v":0.00101},
{"t":40,"v":0.00094},{"t":40.2,"v":0.00077},{"t":40.4,"v":0.00109},{"t":40.6,"v":0.00088},{"t":40.8,"v":0.00118},{"t":41,"v":0.00081},{"t":41.2,"v":0.00099},{"t":41.4,"v":0.00068},{"t":41.6,"v":0.00104},{"t":41.8,"v":0.00089},
{"t":42,"v":0.00079},{"t":42.2,"v":0.00101},{"t":42.4,"v":0.00086},{"t":42.6,"v":0.00114},{"t":42.8,"v":0.00072},{"t":43,"v":0.00093},{"t":43.2,"v":0.00084},{"t":43.4,"v":0.00107},{"t":43.6,"v":0.00065},{"t":43.8,"v":0.00097},
{"t":44,"v":0.00088},{"t":44.2,"v":0.00074},{"t":44.4,"v":0.00103},{"t":44.6,"v":0.00081},{"t":44.8,"v":0.00096},{"t":45,"v":0.00112},{"t":45.2,"v":0.00069},{"t":45.4,"v":0.00091},{"t":45.6,"v":0.00077},{"t":45.8,"v":0.00099},
{"t":46,"v":0.00083},{"t":46.2,"v":0.00106},{"t":46.4,"v":0.00071},{"t":46.6,"v":0.00092},{"t":46.8,"v":0.00079},{"t":47,"v":0.00115},{"t":47.2,"v":0.00087},{"t":47.4,"v":0.00066},{"t":47.6,"v":0.00094},{"t":47.8,"v":0.00081},
{"t":48,"v":0.00097},{"t":48.2,"v":0.00074},{"t":48.4,"v":0.00089},{"t":48.6,"v":0.00108},{"t":48.8,"v":0.00068},{"t":49,"v":0.00085},{"t":49.2,"v":0.00093},{"t":49.4,"v":0.00076},{"t":49.6,"v":0.00102},{"t":49.8,"v":0.00071},
{"t":50,"v":0.00086},{"t":50.2,"v":0.00099},{"t":50.4,"v":0.00072},{"t":50.6,"v":0.00091},{"t":50.8,"v":0.00063},{"t":51,"v":0.00083},{"t":51.2,"v":0.00105},{"t":51.4,"v":0.00077},{"t":51.6,"v":0.00088},{"t":51.8,"v":0.00069},
{"t":52,"v":0.00092},{"t":52.2,"v":0.00075},{"t":52.4,"v":0.00084},{"t":52.6,"v":0.00061},{"t":52.8,"v":0.00096},{"t":53,"v":0.00079},{"t":53.2,"v":0.00087},{"t":53.4,"v":0.00101},{"t":53.6,"v":0.00067},{"t":53.8,"v":0.00082},
{"t":54,"v":0.00073},{"t":54.2,"v":0.00089},{"t":54.4,"v":0.00078},{"t":54.6,"v":0.00097},{"t":54.8,"v":0.00064},{"t":55,"v":0.00085},{"t":55.2,"v":0.00071},{"t":55.4,"v":0.00093},{"t":55.6,"v":0.00059},{"t":55.8,"v":0.00081},
{"t":56,"v":0.00087},{"t":56.2,"v":0.00068},{"t":56.4,"v":0.00079},{"t":56.6,"v":0.00095},{"t":56.8,"v":0.00062},{"t":57,"v":0.00083},{"t":57.2,"v":0.00074},{"t":57.4,"v":0.00091},{"t":57.6,"v":0.00057},{"t":57.8,"v":0.00076},
{"t":58,"v":0.00081},{"t":58.2,"v":0.00066},{"t":58.4,"v":0.00089},{"t":58.6,"v":0.00072},{"t":58.8,"v":0.00053},{"t":59,"v":0.00084},{"t":59.2,"v":0.00069},{"t":59.4,"v":0.00078},{"t":59.6,"v":0.00093},{"t":59.8,"v":0.00063},
{"t":60,"v":0.00074},{"t":60.2,"v":0.00086},{"t":60.4,"v":0.00061},{"t":60.6,"v":0.00079},{"t":60.8,"v":0.00068},{"t":61,"v":0.00092},{"t":61.2,"v":0.00057},{"t":61.4,"v":0.00075},{"t":61.6,"v":0.00065},{"t":61.8,"v":0.00083},
{"t":62,"v":0.00069},{"t":62.2,"v":0.00078},{"t":62.4,"v":0.00055},{"t":62.6,"v":0.00087},{"t":62.8,"v":0.00064},{"t":63,"v":0.00072},{"t":63.2,"v":0.00081},{"t":63.4,"v":0.00059},{"t":63.6,"v":0.00076},{"t":63.8,"v":0.00066},
{"t":64,"v":0.00083},{"t":64.2,"v":0.00062},{"t":64.4,"v":0.00074},{"t":64.6,"v":0.00056},{"t":64.8,"v":0.00089},{"t":65,"v":0.00067},{"t":65.2,"v":0.00071},{"t":65.4,"v":0.00052},{"t":65.6,"v":0.00079},{"t":65.8,"v":0.00064},
{"t":66,"v":0.00068},{"t":66.2,"v":0.00077},{"t":66.4,"v":0.00058},{"t":66.6,"v":0.00084},{"t":66.8,"v":0.00063},{"t":67,"v":0.00071},{"t":67.2,"v":0.00054},{"t":67.4,"v":0.00075},{"t":67.6,"v":0.00066},{"t":67.8,"v":0.00087},
{"t":68,"v":0.00061},{"t":68.2,"v":0.00072},{"t":68.4,"v":0.00065},{"t":68.6,"v":0.00051},{"t":68.8,"v":0.00079},{"t":69,"v":0.00058},{"t":69.2,"v":0.00069},{"t":69.4,"v":0.00082},{"t":69.6,"v":0.00056},{"t":69.8,"v":0.00067},
{"t":70,"v":0.00074},{"t":70.2,"v":0.00059},{"t":70.4,"v":0.00066},{"t":70.6,"v":0.00083},{"t":70.8,"v":0.00054},{"t":71,"v":0.00063},{"t":71.2,"v":0.00071},{"t":71.4,"v":0.00057},{"t":71.6,"v":0.00077},{"t":71.8,"v":0.00062}],
"p4b": [
{"t":0.5,"v":0.0001},{"t":1,"v":0.0001},{"t":1.6,"v":0.0001},{"t":2.1,"v":0.0001},{"t":2.9,"v":0.0001},{"t":3.6,"v":0.0001},{"t":6,"v":0.0001},{"t":6.7,"v":0.0001},{"t":8.1,"v":0.0001},{"t":9,"v":0.0001},
{"t":9.8,"v":0.0001},{"t":11.4,"v":0.0001},{"t":12.6,"v":0.0001},{"t":13.1,"v":0.0001},{"t":14.8,"v":0.0001},{"t":16.3,"v":0.0001},{"t":17.1,"v":0.0001},{"t":17.9,"v":0.0001},{"t":18.6,"v":0.0001},{"t":19.3,"v":0.0001},
{"t":20.7,"v":0.0001},{"t":21.7,"v":0.0001},{"t":22.8,"v":0.0001},{"t":24,"v":0.0001},{"t":26.7,"v":0.0001},{"t":29.7,"v":0.0001},{"t":31,"v":0.0001},{"t":32.1,"v":0.0001},{"t":36.2,"v":0.0001},{"t":36.7,"v":0.0001},
{"t":37.2,"v":0.0001},{"t":39.3,"v":0.0001},{"t":39.8,"v":0.0001},{"t":41.7,"v":0.0001},{"t":42.2,"v":0.0001},{"t":46.7,"v":0.0001},{"t":48.6,"v":0.0001},{"t":50.4,"v":0.0001},{"t":53,"v":0.0001},{"t":60,"v":0.0001},
{"t":61.8,"v":0.0001},{"t":64.9,"v":0.0001},{"t":66.5,"v":0.0001},{"t":68.8,"v":0.0001},{"t":71.4,"v":0.0001},
{"t":1,"v":0.00019},{"t":13.4,"v":0.00019},{"t":17.9,"v":0.00013},{"t":4.7,"v":0.000025},{"t":10.3,"v":0.000025},{"t":13.7,"v":0.000037},{"t":29.9,"v":0.000025},
{"t":0.2,"v":0.0000115},{"t":0.6,"v":0.0000115},{"t":1,"v":0.0000115},{"t":1.6,"v":0.0000115},{"t":2,"v":0.0000115},{"t":2.4,"v":0.0000115},{"t":2.9,"v":0.0000115},{"t":3.3,"v":0.0000115},{"t":3.8,"v":0.0000115},{"t":4.2,"v":0.0000115},
{"t":5.2,"v":0.0000115},{"t":6,"v":0.0000115},{"t":6.5,"v":0.0000115},{"t":7,"v":0.0000115},{"t":7.4,"v":0.0000115},{"t":8,"v":0.0000115},{"t":8.5,"v":0.0000115},{"t":9,"v":0.0000115},{"t":9.5,"v":0.0000115},{"t":11.4,"v":0.0000115},
{"t":11.9,"v":0.0000115},{"t":12.4,"v":0.0000115},{"t":12.9,"v":0.0000115},{"t":13.4,"v":0.0000115},{"t":14.5,"v":0.0000115},{"t":17.3,"v":0.0000115},{"t":19,"v":0.0000115},{"t":19.6,"v":0.0000115},{"t":20.3,"v":0.0000115},{"t":21,"v":0.0000115},
{"t":23.2,"v":0.0000115},{"t":23.7,"v":0.0000115},{"t":24.1,"v":0.0000115},{"t":24.8,"v":0.0000115},{"t":25.3,"v":0.0000115},{"t":25.9,"v":0.0000115},{"t":26.5,"v":0.0000115},{"t":27.7,"v":0.0000115},{"t":28.2,"v":0.0000115},{"t":29.2,"v":0.0000115},
{"t":30.7,"v":0.0000115},{"t":31.3,"v":0.0000115},{"t":33.8,"v":0.0000115},{"t":35,"v":0.0000115},{"t":35.7,"v":0.0000115},{"t":36.9,"v":0.0000115},{"t":38.5,"v":0.0000115},{"t":39,"v":0.0000115},{"t":40.3,"v":0.0000115},{"t":42.1,"v":0.0000115},
{"t":42.7,"v":0.0000115},{"t":45.3,"v":0.0000115},{"t":45.8,"v":0.0000115},{"t":46.2,"v":0.0000115},{"t":47.1,"v":0.0000115},{"t":47.6,"v":0.0000115},{"t":48.2,"v":0.0000115},{"t":49.9,"v":0.0000115},{"t":52.5,"v":0.0000115},{"t":53.6,"v":0.0000115},
{"t":54.5,"v":0.0000115},{"t":55.1,"v":0.0000115},{"t":58.6,"v":0.0000115},{"t":60,"v":0.0000115},{"t":60.8,"v":0.0000115},{"t":62.6,"v":0.0000115},{"t":65.5,"v":0.0000115},{"t":66.8,"v":0.0000115},{"t":67.5,"v":0.0000115},{"t":68.3,"v":0.0000115},
{"t":68.8,"v":0.0000115},{"t":70,"v":0.0000115},{"t":70.5,"v":0.0000115},{"t":71.1,"v":0.0000115}],
"p4r": [{"t":3.6,"v":0.0001},{"t":13.1,"v":0.0001},{"t":17.9,"v":0.0001},{"t":26.7,"v":0.0001},{"t":29.7,"v":0.0001},{"t":53.8,"v":0.0001},
{"t":5.5,"v":0.0000115},{"t":8.4,"v":0.0000115},{"t":24.8,"v":0.0000115},{"t":26.9,"v":0.0000115},{"t":52.5,"v":0.0000115},{"t":56.6,"v":0.0000115},{"t":63.9,"v":0.0000115}]
},
"vconcat": [
{
 "width": 696, "height": 180,
 "resolve": {"axis": {"x": "independent", "y": "independent"}},
 "layer": [
  {"data": {"name": "p1k"}, "mark": {"type": "line", "strokeWidth": 3},
   "encoding": {
    "x": {"field": "t", "type": "quantitative", "scale": {"domain": [0, 72], "nice": false, "zero": false}, "axis": {"orient": "bottom", "values": [0,6,12,18,24,30,36,42,48,54,60,66,72], "tickSize": -5, "labels": false, "title": null}},
    "y": {"field": "v", "type": "quantitative", "scale": {"type": "log", "domain": [0.001, 10000000], "nice": false}, "axis": {"orient": "left", "values": [0.001,0.01,0.1,1,10,100,1000,10000,100000,1000000,10000000], "tickSize": {"condition": {"test": "round(log(datum.value)/LN10) % 2 == 0", "value": -15}, "value": -7}, "labelExpr": "round(log(datum.value)/LN10) % 2 == 0 ? '10' + ['⁻⁵','⁻⁴','⁻³','⁻²','⁻¹','⁰','¹','²','³','⁴','⁵','⁶','⁷'][round(log(datum.value)/LN10)+5] : ''", "labelPadding": 19, "title": "1/(cm² s sr MeV)", "titlePadding": 6}},
    "color": {"datum": "0.035 to 0.065 MeV Electrons", "type": "nominal", "scale": {"domain": ["0.035 to 0.065 MeV Electrons", "0.7 to 4.0 Mev Electrons"], "range": ["black", "blue"]}, "legend": {"title": null, "columnPadding": 41, "labelColor": {"expr": "indexof(datum.value, 'Mev') >= 0 ? 'blue' : 'black'"}}}
   }},
  {"data": {"name": "p1b"}, "mark": {"type": "square", "size": 6, "opacity": 1},
   "encoding": {
    "x": {"field": "t", "type": "quantitative", "axis": {"orient": "top", "values": [0,6,12,18,24,30,36,42,48,54,60,66,72], "tickSize": -5, "labels": false, "title": null}},
    "y": {"field": "v", "type": "quantitative", "axis": {"orient": "right", "values": [0.001,0.01,0.1,1,10,100,1000,10000,100000,1000000,10000000], "tickSize": {"condition": {"test": "round(log(datum.value)/LN10) % 2 == 0", "value": -15}, "value": -7}, "labels": false, "title": null}},
    "color": {"datum": "0.7 to 4.0 Mev Electrons", "type": "nominal"}
   }}
 ]
},
{
 "width": 696, "height": 180,
 "resolve": {"axis": {"x": "independent", "y": "independent"}},
 "layer": [
  {"data": {"name": "p2k"}, "mark": {"type": "line", "strokeWidth": 3},
   "encoding": {
    "x": {"field": "t", "type": "quantitative", "scale": {"domain": [0, 72], "nice": false, "zero": false}, "axis": {"orient": "bottom", "values": [0,6,12,18,24,30,36,42,48,54,60,66,72], "tickSize": -5, "labels": false, "title": null}},
    "y": {"field": "v", "type": "quantitative", "scale": {"type": "log", "domain": [0.00001, 1000000], "nice": false}, "axis": {"orient": "left", "values": [0.00001,0.0001,0.001,0.01,0.1,1,10,100,1000,10000,100000,1000000], "tickSize": {"condition": {"test": "round(log(datum.value)/LN10) % 2 == 0", "value": -15}, "value": -7}, "labelExpr": "round(log(datum.value)/LN10) % 2 == 0 ? '10' + ['⁻⁵','⁻⁴','⁻³','⁻²','⁻¹','⁰','¹','²','³','⁴','⁵','⁶','⁷'][round(log(datum.value)/LN10)+5] : ''", "labelPadding": 19, "title": "1/(cm² s sr MeV)", "titlePadding": 6}},
    "color": {"datum": "0.14-0.62 MeV H", "type": "nominal", "scale": {"domain": ["0.14-0.62 MeV H", "0.62-2.22 MeV H", "2.2-12 MeV H", "13-100 MeV H"], "range": ["black", "blue", "#cc7f66", "red"]}, "legend": {"title": null, "columnPadding": 26, "labelColor": {"expr": "datum.value == '0.62-2.22 MeV H' ? 'blue' : datum.value == '2.2-12 MeV H' ? '#cc7f66' : datum.value == '13-100 MeV H' ? 'red' : 'black'"}}}
   }},
  {"data": {"name": "p2b"}, "mark": {"type": "line", "strokeWidth": 3},
   "encoding": {
    "x": {"field": "t", "type": "quantitative", "axis": {"orient": "top", "values": [0,6,12,18,24,30,36,42,48,54,60,66,72], "tickSize": -5, "labels": false, "title": null}},
    "y": {"field": "v", "type": "quantitative", "axis": {"orient": "right", "values": [0.00001,0.0001,0.001,0.01,0.1,1,10,100,1000,10000,100000,1000000], "tickSize": {"condition": {"test": "round(log(datum.value)/LN10) % 2 == 0", "value": -15}, "value": -7}, "labels": false, "title": null}},
    "color": {"datum": "0.62-2.22 MeV H", "type": "nominal"}
   }},
  {"data": {"name": "p2o"}, "mark": {"type": "line", "strokeWidth": 3},
   "encoding": {
    "x": {"field": "t", "type": "quantitative", "axis": null},
    "y": {"field": "v", "type": "quantitative", "axis": null},
    "color": {"datum": "2.2-12 MeV H", "type": "nominal"}
   }},
  {"data": {"name": "p2r"}, "mark": {"type": "square", "size": 6, "opacity": 1},
   "encoding": {
    "x": {"field": "t", "type": "quantitative", "axis": null},
    "y": {"field": "v", "type": "quantitative", "axis": null},
    "color": {"datum": "13-100 MeV H", "type": "nominal"}
   }}
 ]
},
{
 "width": 696, "height": 180,
 "resolve": {"axis": {"x": "independent", "y": "independent"}},
 "layer": [
  {"data": {"name": "p3k"}, "mark": {"type": "point", "shape": "M-1,-0.65H1V0.65H-1Z", "filled": true, "size": 10, "opacity": 1},
   "encoding": {
    "x": {"field": "t", "type": "quantitative", "scale": {"domain": [0, 72], "nice": false, "zero": false}, "axis": {"orient": "bottom", "values": [0,6,12,18,24,30,36,42,48,54,60,66,72], "tickSize": -5, "labels": false, "title": null}},
    "y": {"field": "v", "type": "quantitative", "scale": {"type": "log", "domain": [0.001, 10000], "nice": false}, "axis": {"orient": "left", "values": [0.001,0.01,0.1,1,10,100,1000,10000], "tickSize": -15, "labelExpr": "'10' + ['⁻⁵','⁻⁴','⁻³','⁻²','⁻¹','⁰','¹','²','³','⁴','⁵','⁶','⁷'][round(log(datum.value)/LN10)+5]", "labelPadding": 19, "title": "1/(cm² s sr MeV/nuc.)", "titlePadding": 6}},
    "color": {"datum": "0.12-1.08 MeV/n He", "type": "nominal", "scale": {"domain": ["0.12-1.08 MeV/n He", "0.12-1.08 MeV/n CNO", "0.12-1.08 MeV Fe"], "range": ["black", "blue", "red"]}, "legend": {"title": null, "columnPadding": 27, "labelColor": {"expr": "indexof(datum.value, 'CNO') >= 0 ? 'blue' : indexof(datum.value, 'Fe') >= 0 ? 'red' : 'black'"}}}
   }},
  {"data": {"name": "p3b"}, "mark": {"type": "point", "shape": "M-1,-0.65H1V0.65H-1Z", "filled": true, "size": 10, "opacity": 1},
   "encoding": {
    "x": {"field": "t", "type": "quantitative", "axis": {"orient": "top", "values": [0,6,12,18,24,30,36,42,48,54,60,66,72], "tickSize": -5, "labels": false, "title": null}},
    "y": {"field": "v", "type": "quantitative", "axis": {"orient": "right", "values": [0.001,0.01,0.1,1,10,100,1000,10000], "tickSize": -15, "labels": false, "title": null}},
    "color": {"datum": "0.12-1.08 MeV/n CNO", "type": "nominal"}
   }},
  {"data": {"name": "p3r"}, "mark": {"type": "point", "shape": "M-1,-0.65H1V0.65H-1Z", "filled": true, "size": 10, "opacity": 1},
   "encoding": {
    "x": {"field": "t", "type": "quantitative", "axis": null},
    "y": {"field": "v", "type": "quantitative", "axis": null},
    "color": {"datum": "0.12-1.08 MeV Fe", "type": "nominal"}
   }}
 ]
},
{
 "width": 696, "height": 180,
 "resolve": {"axis": {"x": "independent", "y": "independent"}},
 "layer": [
  {"data": {"name": "p4k"}, "mark": {"type": "square", "size": 5, "opacity": 1},
   "encoding": {
    "x": {"field": "t", "type": "quantitative", "scale": {"domain": [0, 72], "nice": false, "zero": false}, "axis": {"orient": "bottom", "values": [0,6,12,18,24,30,36,42,48,54,60,66,72], "tickSize": -5, "labelExpr": "datum.value == 0 ? '31-Mar' : datum.value == 24 ? '01-Apr' : datum.value == 48 ? '02-Apr' : datum.value == 72 ? '03-Apr' : ''", "labelPadding": 16, "title": "STEREO Ahead", "titleAnchor": "start", "titleAlign": "left", "titlePadding": 1}},
    "y": {"field": "v", "type": "quantitative", "scale": {"type": "log", "domain": [0.00001, 1000], "nice": false}, "axis": {"orient": "left", "values": [0.00001,0.0001,0.001,0.01,0.1,1,10,100,1000], "tickSize": {"condition": {"test": "round(log(datum.value)/LN10) % 2 == 0", "value": -15}, "value": -7}, "labelExpr": "round(log(datum.value)/LN10) % 2 == 0 ? '10' + ['⁻⁵','⁻⁴','⁻³','⁻²','⁻¹','⁰','¹','²','³','⁴','⁵','⁶','⁷'][round(log(datum.value)/LN10)+5] : ''", "labelPadding": 19, "title": "1/(cm² s sr MeV/nuc.)", "titlePadding": 6}},
    "color": {"datum": "4 to 12 MeV/n He", "type": "nominal", "scale": {"domain": ["4 to 12 MeV/n He", "4 to 12 MeV/n CNO", "4 to 12 MeV Fe"], "range": ["black", "blue", "red"]}, "legend": {"title": null, "columnPadding": 30, "labelColor": {"expr": "indexof(datum.value, 'CNO') >= 0 ? 'blue' : indexof(datum.value, 'Fe') >= 0 ? 'red' : 'black'"}}}
   }},
  {"data": {"name": "p4b"}, "mark": {"type": "square", "size": 6, "opacity": 1},
   "encoding": {
    "x": {"field": "t", "type": "quantitative", "axis": {"orient": "top", "values": [0,6,12,18,24,30,36,42,48,54,60,66,72], "tickSize": -5, "labels": false, "title": null}},
    "y": {"field": "v", "type": "quantitative", "axis": {"orient": "right", "values": [0.00001,0.0001,0.001,0.01,0.1,1,10,100,1000], "tickSize": {"condition": {"test": "round(log(datum.value)/LN10) % 2 == 0", "value": -15}, "value": -7}, "labels": false, "title": null}},
    "color": {"datum": "4 to 12 MeV/n CNO", "type": "nominal"}
   }},
  {"data": {"name": "p4r"}, "mark": {"type": "square", "size": 6, "opacity": 1},
   "encoding": {
    "x": {"field": "t", "type": "quantitative", "axis": null},
    "y": {"field": "v", "type": "quantitative", "axis": null},
    "color": {"datum": "4 to 12 MeV Fe", "type": "nominal"}
   }}
 ]
}
]
}
